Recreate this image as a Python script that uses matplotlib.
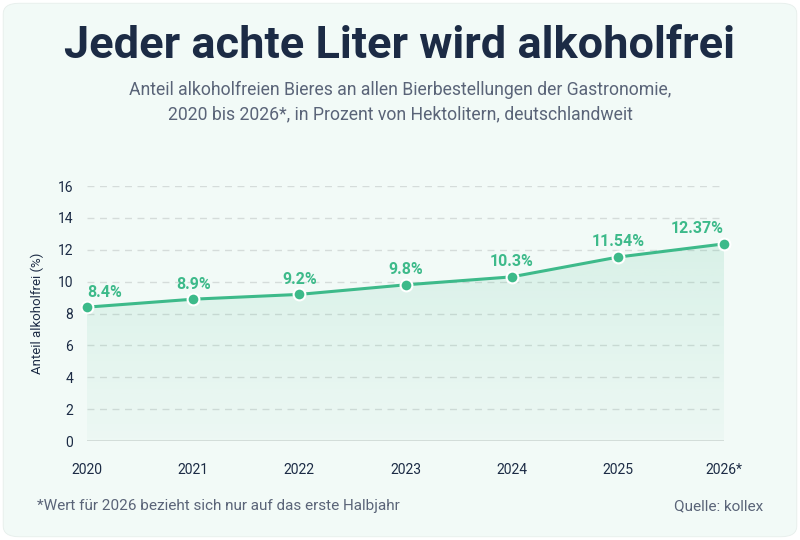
import matplotlib.pyplot as plt
import numpy as np
from matplotlib.patches import FancyBboxPatch, Polygon

years = ["2020", "2021", "2022", "2023", "2024", "2025", "2026*"]
share = [8.4, 8.9, 9.2, 9.8, 10.3, 11.54, 12.37]
labels = ["8.4%", "8.9%", "9.2%", "9.8%", "10.3%", "11.54%", "12.37%"]
yticks = [0, 2, 4, 6, 8, 10, 12, 14, 16]

green = "#3dba8a"
navy = "#1c2b45"
grey = "#5a6478"
bg = "#f2faf7"

plt.rcParams['font.family'] = ['Roboto', 'DejaVu Sans']

fig = plt.figure(figsize=(8, 5.4), dpi=100)
fig.patch.set_facecolor("white")
card = FancyBboxPatch((0.004, 0.006), 0.992, 0.988, boxstyle="round,pad=0,rounding_size=0.02",
                      transform=fig.transFigure, facecolor=bg, edgecolor="#e6eeeb", lw=0.6, zorder=-10)
fig.patches.append(card)

ax = fig.add_axes([0.10875, 0.1833, 0.79625, 0.4722])
ax.set_facecolor("none")
x = np.arange(len(years))

ax.set_xlim(0, len(years) - 1)
ax.set_ylim(0, 16)

# gradient fill under the line
alpha = np.linspace(0.14, 0.03, 256).reshape(-1, 1)
rgba = np.zeros((256, 1, 4))
rgba[..., :3] = np.array([0x3d, 0xba, 0x8a]) / 255
rgba[..., 3] = alpha
img = ax.imshow(rgba, extent=[0, len(years) - 1, 0, max(share)], origin="upper",
                aspect="auto", zorder=1)
poly = Polygon(np.vstack([[0, 0], np.column_stack([x, share]), [len(years) - 1, 0]]),
               closed=True, transform=ax.transData, facecolor="none", edgecolor="none")
ax.add_patch(poly)
img.set_clip_path(poly)
ax.set_ylim(0, 16)

for t in yticks[1:]:
    ax.axhline(t, color="#d5dcda", lw=1, ls=(0, (5, 4)), zorder=0)
ax.axhline(0, color="#d3d9d7", lw=1.2, zorder=0)

ax.plot(x, share, color=green, lw=2.2, zorder=3, clip_on=False)
ax.scatter(x, share, s=72, color=green, edgecolor="white", linewidth=1.5, zorder=4, clip_on=False)

for i, (v, lab) in enumerate(zip(share, labels)):
    ha = "center"
    if i == 0:
        ha = "left"
    elif i == len(share) - 1:
        ha = "right"
    ax.annotate(lab, (i, v), xytext=(0, 5.5), textcoords="offset points", ha=ha, va="bottom",
                fontsize=11.5, fontweight="bold", color=green)

ax.set_xticks(x)
ax.set_xticklabels(years)
ax.set_yticks(yticks)
ax.tick_params(axis="both", length=0, labelsize=10, colors=navy)
ax.tick_params(axis="x", pad=16)
ax.tick_params(axis="y", pad=10)
for s in ax.spines.values():
    s.set_visible(False)
ax.set_ylabel("Anteil alkoholfrei (%)", fontsize=9.5, color=navy, labelpad=10)

fig.text(0.5, 0.915, "Jeder achte Liter wird alkoholfrei", ha="center", va="center",
         fontsize=32.5, fontweight="bold", color=navy)
fig.text(0.5, 0.811, "Anteil alkoholfreien Bieres an allen Bierbestellungen der Gastronomie,\n"
         "2020 bis 2026*, in Prozent von Hektolitern, deutschlandweit",
         ha="center", va="center", fontsize=12.7, color=grey, linespacing=1.45)
fig.text(0.046, 0.063, "*Wert für 2026 bezieht sich nur auf das erste Halbjahr", ha="left", va="center",
         fontsize=11, color=grey)
fig.text(0.954, 0.063, "Quelle: kollex", ha="right", va="center", fontsize=11, color=grey)

fig.savefig("out.png", dpi=100, facecolor=fig.get_facecolor())
